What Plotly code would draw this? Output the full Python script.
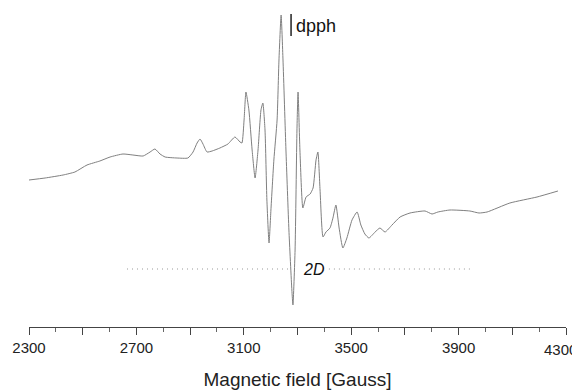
import plotly.graph_objects as go

# Magnetic field (Gauss) and derivative EPR intensity (arbitrary units)
field = [2300, 2360, 2427, 2471, 2516, 2564, 2602, 2650, 2687, 2725, 2751, 2769, 2788, 2807,
         2851, 2892, 2911, 2926, 2937, 2948, 2963, 2982, 3011, 3041, 3067, 3086, 3093, 3101,
         3108, 3119, 3131, 3142, 3153, 3164, 3171, 3179, 3186, 3194, 3201, 3212, 3224, 3231,
         3239, 3246, 3257, 3268, 3279, 3283, 3291, 3298, 3302, 3309, 3320, 3332, 3347, 3358,
         3369, 3376, 3384, 3395, 3406, 3421, 3432, 3443, 3455, 3469, 3484, 3503, 3522, 3536,
         3551, 3566, 3589, 3607, 3626, 3652, 3682, 3719, 3775, 3801, 3823, 3868, 3942, 3976,
         4006, 4091, 4192, 4270]
intensity = [0, 2, 5, 8, 15, 19, 23, 26, 25, 24, 28, 31, 26, 23,
             22, 22, 28, 37, 41, 36, 28, 29, 32, 36, 43, 38, 37, 60,
             88, 70, 30, 2, 30, 70, 77, 50, -20, -63, -30, 20, 60, 120,
             165, 120, 30, -50, -110, -125, -70, 50, 88, 30, -28, -17, -14, -8,
             20, 28, -10, -57, -52, -48, -38, -25, -48, -68, -58, -40, -32, -45,
             -54, -58, -52, -48, -52, -45, -37, -33, -31, -34, -32, -30, -31, -33,
             -32, -23, -17, -11]

tick_vals = [2300, 2500, 2700, 2900, 3100, 3300, 3500, 3700, 3900, 4100, 4300]
tick_text = ["2300", "", "2700", "", "3100", "", "3500", "", "3900", "", "4300"]

# markers
dpph_field = 3276
dpph_bar = [144, 166]
splitting_left = [2665, 3279]
splitting_right = [3417, 3942]
splitting_level = -89

fig = go.Figure()
fig.add_trace(go.Scatter(x=field, y=intensity, mode="lines",
                         line=dict(color="#808080", width=1, shape="spline", smoothing=0.5),
                         hoverinfo="skip", showlegend=False))

for seg in (splitting_left, splitting_right):
    fig.add_trace(go.Scatter(x=seg, y=[splitting_level, splitting_level], mode="lines",
                             line=dict(color="#999999", width=1, dash="1px,4px"),
                             hoverinfo="skip", showlegend=False))

fig.add_trace(go.Scatter(x=[dpph_field, dpph_field], y=dpph_bar, mode="lines",
                         line=dict(color="#222222", width=1.5),
                         hoverinfo="skip", showlegend=False))

fig.add_annotation(x=dpph_field, y=154, text="dpph", showarrow=False,
                   xanchor="left", xshift=3, font=dict(size=18, color="#111111"))
fig.add_annotation(x=3361, y=splitting_level, text="<i>2D</i>", showarrow=False,
                   xanchor="center", font=dict(size=16, color="#111111"))

# the last tick label sits against the right edge, so it is placed right-aligned
shown_text = tick_text[:-1] + [""]
fig.add_annotation(x=tick_vals[-1], xref="x", y=0, yref="paper", text=tick_text[-1],
                   showarrow=False, xanchor="right", xshift=13, yanchor="middle", yshift=-22,
                   font=dict(size=15, color="#222222"))

# the page places the figure 8px in from the top-left corner
fig.update_layout(
    width=572, height=382,
    margin=dict(l=21, r=14, t=0, b=63),
    paper_bgcolor="white", plot_bgcolor="white",
    font=dict(family="Liberation Sans, Arial, sans-serif", size=15, color="#222222"),
    xaxis=dict(range=[2300, 4300], tickmode="array", tickvals=tick_vals, ticktext=shown_text,
               automargin=False, ticklabeloverflow="allow",
               ticks="outside", ticklen=7, tickcolor="#444444", tickwidth=1,
               showline=True, linecolor="#444444", linewidth=1, showgrid=False, zeroline=False,
               tickfont=dict(size=15, color="#222222"),
               minor=dict(tickmode="linear", tick0=2300, dtick=100, ticks="outside",
                          ticklen=4, tickcolor="#666666", showgrid=False),
               title=dict(text="Magnetic field [Gauss]", font=dict(size=19, color="#222222"),
                          standoff=17)),
    yaxis=dict(range=[-147, 172], visible=False, showgrid=False, zeroline=False,
               automargin=False),
)

fig.write_html("out.html")
